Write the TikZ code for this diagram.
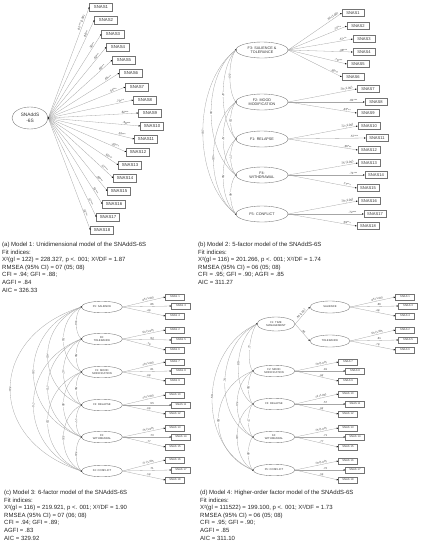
\documentclass[tikz,border=0pt]{standalone}
\usepackage{fontspec}
\setmainfont{Liberation Sans}
\usetikzlibrary{shapes.geometric,arrows.meta,calc}
\newcommand\covarc[5]{\draw[cov] (#1) .. controls +(-#3,#4) and +(-#3,-#4) .. (#2) node[covl]{#5};}
\begin{document}
\begin{tikzpicture}[x=1pt,y=-1pt,
  ln/.style={draw=black!35, line width=0.3pt, -{Latex[length=1.6pt,width=1.5pt,color=black]}},
  cov/.style={draw=black!35, line width=0.3pt},
  covl/.style={pos=0.5, sloped, fill=white, inner sep=0.3pt, font=\fontsize{3}{3}\selectfont, text=black!75},
  lbl/.style={pos=0.85, sloped, above, inner sep=0.4pt, font=\fontsize{3}{3}\selectfont, text=black!75},
  lblc/.style={pos=0.6, sloped, above, inner sep=0.4pt, font=\fontsize{2.8}{3}\selectfont, text=black!75},
  itema/.style={draw=black!55, line width=0.35pt, minimum width=23pt, minimum height=7.5pt, inner sep=0pt, font=\fontsize{4.3}{4.3}\selectfont, text=black!80},
  itemb/.style={itema, minimum width=22pt, minimum height=7pt, font=\fontsize{4.1}{4.1}\selectfont},
  itemc/.style={itema, minimum width=19pt, minimum height=6pt, font=\fontsize{2.7}{2.7}\selectfont},
  fac/.style={ellipse, draw=black!55, line width=0.35pt, inner sep=0pt, align=center, text=black!80},
  facb/.style={fac, minimum width=52pt, minimum height=16pt, font=\fontsize{3.7}{4.4}\selectfont},
  facc/.style={fac, minimum width=41pt, minimum height=11.5pt, font=\fontsize{2.7}{3.2}\selectfont},
  captxt/.style={anchor=north west, align=left, inner sep=0pt, font=\fontsize{6}{7.6}\selectfont, text=black!85}
]
\useasboundingbox (0,0) rectangle (421,550);

% ---------------- (a) ----------------
\node[fac, minimum width=36pt, minimum height=22pt, font=\fontsize{4.8}{5.6}\selectfont] (g) at (30,118) {SNAddS\\-6S};
\foreach \n/\x/\y/\l in {1/101/7/{.82*** (1.00)},2/106/20/{.86***},3/113/34/{.56***},4/118/47/{.62***},5/124/60/{.66***},6/131/73/{.65***},7/137/87/{.54***},8/145/100/{.70***},9/150/113/{.62***},10/152/126/{.68***},11/146/139/{.53***},12/138/152/{.60***},13/130/165/{.60***},14/125/178/{.57***},15/119/191/{.66***},16/114/204/{.52***},17/108/217/{.57***},18/102/230/{.51***}}{
  \node[itema] (a\n) at (\x,\y) {SNAS\n};
  \draw[ln] (g.east) -- (a\n.west) node[lbl]{\l};
}
\fill (g.east) circle (0.9pt);
\node[captxt] (capa) at (2,242) {(a) Model 1: Unidimensional model of the SNAddS-6S\\Fit indices:\\X²(gl = 122) = 228.327, p <. 001; X²/DF = 1.87\\RMSEA (95\% CI) = 07 (05; 08)\\CFI = .94; GFI = .88;\\AGFI = .84\\AIC = 326.33};

% ---------------- (b) ----------------
\node[facb] (b3) at (262,50) {F3: SALIENCE \&\\TOLERANCE};
\node[facb] (b2) at (262,102) {F2: MOOD\\MODIFICATION};
\node[facb] (b1) at (262,139) {F1: RELAPSE};
\node[facb] (b4) at (262,175) {F4:\\WITHDRAWAL};
\node[facb] (b5) at (262,214) {F5: CONFLICT};
\foreach \n/\x/\y/\f/\l in {1/353/13/b3/{.84 (1.00)},2/358/26/b3/{.74***},3/364/39/b3/{.47***},4/364/52/b3/{.48***},5/358/64/b3/{.76***},6/353/77/b3/{.80***},7/368/89/b2/{.79 (1.00)},8/376/102/b2/{.81***},9/368/113/b2/{.83***},10/369/126/b1/{.72 (1.00)},11/377/138/b1/{.57***},12/369/150/b1/{.66***},13/369/163/b4/{.75 (1.00)},14/376/175/b4/{.71***},15/368/188/b4/{.77***},16/369/201/b5/{.79 (1.00)},17/375/214/b5/{.72***},18/368/226/b5/{.59***}}{
  \node[itemb] (bi\n) at (\x,\y) {SNAS\n};
  \draw[ln] (\f.east) -- (bi\n.west) node[lbl]{\l};
}
\foreach \f in {b1,b2,b3,b4,b5}{\coordinate (d\f) at (\f.west); \fill (d\f) circle (0.9pt);}
\covarc{db3}{db2}{8}{10}{.53}
\covarc{db2}{db1}{7}{8}{.53}
\covarc{db1}{db4}{7}{8}{.77}
\covarc{db4}{db5}{7}{8}{.48}
\covarc{db3}{db1}{17}{18}{.47}
\covarc{db2}{db4}{17}{15}{.57}
\covarc{db1}{db5}{17}{15}{.59}
\covarc{db3}{db4}{33}{25}{.33}
\covarc{db2}{db5}{30}{22}{.48}
\covarc{db3}{db5}{44}{33}{.38}
\node[captxt] (capb) at (198,242) {(b) Model 2: 5-factor model of the SNAddS-6S\\Fit indices:\\X²(gl = 116) = 201.266, p <. 001; X²/DF = 1.74\\RMSEA (95\% CI) = 06 (05; 08)\\CFI = .95; GFI = .90; AGFI = .85\\AIC = 311.27};

% ---------------- (c) ----------------
\node[facc] (c5) at (102,307) {F5: SALIENCE};
\node[facc] (c6) at (102,339) {F6:\\TOLERANCE};
\node[facc] (c1) at (102,372) {F1: MOOD\\MODIFICATION};
\node[facc] (c2) at (102,405) {F2: RELAPSE};
\node[facc] (c3) at (102,437) {F3:\\WITHDRAWAL};
\node[facc] (c4) at (102,471) {F4: CONFLICT};
\foreach \n/\x/\y/\f/\l in {1/175/297/c5/{.65 (1.00)},3/181/306/c5/{.86},4/175/316/c5/{.49},2/175/330/c6/{.54 (1.00)},5/181/340/c6/{.82},6/175/350/c6/{.76},7/175/362/c1/{.79 (1.00)},8/181/371/c1/{.81},9/175/381/c1/{.88},10/175/395/c2/{.73 (1.00)},11/181/405/c2/{.55},12/175/414/c2/{.66},13/175/428/c3/{.75 (1.00)},14/181/437/c3/{.70},15/175/447/c3/{.77},16/175/460/c4/{.77 (1.00)},17/181/470/c4/{.71},18/175/480/c4/{.58}}{
  \node[itemc] (ci\n) at (\x,\y) {SNAS \n};
  \draw[ln] (\f.east) -- (ci\n.west) node[lblc]{\l};
}
\foreach \f in {c1,c2,c3,c4,c5,c6}{\coordinate (d\f) at (\f.west); \fill (d\f) circle (0.9pt);}
\covarc{dc5}{dc6}{7}{6}{.84}
\covarc{dc6}{dc1}{7}{6}{.58}
\covarc{dc1}{dc2}{7}{6}{.58}
\covarc{dc2}{dc3}{7}{6}{.77}
\covarc{dc3}{dc4}{7}{6}{.58}
\covarc{dc5}{dc1}{24}{12}{.54}
\covarc{dc6}{dc2}{24}{12}{.47}
\covarc{dc1}{dc3}{24}{12}{.48}
\covarc{dc2}{dc4}{24}{12}{.56}
\covarc{dc5}{dc2}{45}{18}{.40}
\covarc{dc6}{dc3}{45}{18}{.70}
\covarc{dc1}{dc4}{45}{18}{.53}
\covarc{dc5}{dc3}{64}{24}{.38}
\covarc{dc6}{dc4}{64}{24}{.74}
\covarc{dc5}{dc4}{95}{30}{.59}
\node[captxt] (capc) at (4,490) {(c) Model 3: 6-factor model of the SNAddS-6S\\Fit indices:\\X²(gl = 116) = 219.921, p <. 001; X²/DF = 1.90\\RMSEA (95\% CI) = 07 (06; 08)\\CFI = .94; GFI = .89;\\AGFI = .83\\AIC = 329.92};

% ---------------- (d) ----------------
\node[facc, minimum width=38pt, minimum height=14pt] (d1) at (276,324) {F1: TIME\\MANAGEMENT};
\node[facc, minimum width=40pt, minimum height=12pt] (ds) at (330,307) {SALIENCE};
\node[facc, minimum width=40pt, minimum height=12pt] (dt) at (330,341) {TOLERANCE};
\node[facc, minimum width=42pt] (d2) at (274,371) {F2: MOOD\\MODIFICATION};
\node[facc, minimum width=42pt] (d3) at (274,404) {F3: RELAPSE};
\node[facc, minimum width=42pt] (d4) at (274,437) {F4:\\WITHDRAWAL};
\node[facc, minimum width=42pt] (d5) at (274,470) {F5: CONFLICT};
\draw[ln] (d1.east) -- (ds.west) node[pos=0.5, sloped, above, inner sep=0.4pt, font=\fontsize{2.8}{3}\selectfont, text=black!75]{.86 (1.00)};
\draw[ln] (d1.east) -- (dt.west) node[pos=0.5, sloped, above, inner sep=0.4pt, font=\fontsize{2.8}{3}\selectfont, text=black!75]{.86};
\foreach \n/\x/\y/\f/\l in {1/405/297/ds/{.65 (1.00)},3/408/306/ds/{.86},4/405/316/ds/{.48},2/405/330/dt/{.53 (1.00)},5/408/340/dt/{.81},6/405/350/dt/{.78},7/348/362/d2/{.79 (1.00)},8/355/371/d2/{.81},9/348/381/d2/{.88},10/348/394/d3/{.72 (1.00)},11/355/404/d3/{.57},12/348/414/d3/{.66},13/348/428/d4/{.75 (1.00)},14/355/437/d4/{.71},15/348/447/d4/{.77},16/348/461/d5/{.79 (1.00)},17/355/470/d5/{.72},18/348/480/d5/{.59}}{
  \node[itemc] (di\n) at (\x,\y) {SNAS \n};
  \draw[ln] (\f.east) -- (di\n.west) node[lblc]{\l};
}
\foreach \f in {d1,d2,d3,d4,d5}{\coordinate (d\f) at (\f.west); \fill (d\f) circle (0.9pt);}
\covarc{dd1}{dd2}{7}{8}{.77}
\covarc{dd2}{dd3}{6}{6}{.58}
\covarc{dd3}{dd4}{6}{6}{.77}
\covarc{dd4}{dd5}{6}{6}{.49}
\covarc{dd1}{dd3}{22}{14}{.80}
\covarc{dd2}{dd4}{21}{12}{.53}
\covarc{dd3}{dd5}{21}{12}{.48}
\covarc{dd1}{dd4}{40}{20}{.74}
\covarc{dd2}{dd5}{46}{18}{.60}
\covarc{dd1}{dd5}{57}{25}{.59}
\node[captxt] (capd) at (200,490) {(d) Model 4: Higher-order factor model of the SNAddS-6S\\Fit indices:\\X²(gl = 111522) = 199.100, p <. 001; X²/DF = 1.73\\RMSEA (95\% CI) = 06 (05; 08)\\CFI = .95; GFI = .90;\\AGFI = .85\\AIC = 311.10};
\end{tikzpicture}
\end{document}
